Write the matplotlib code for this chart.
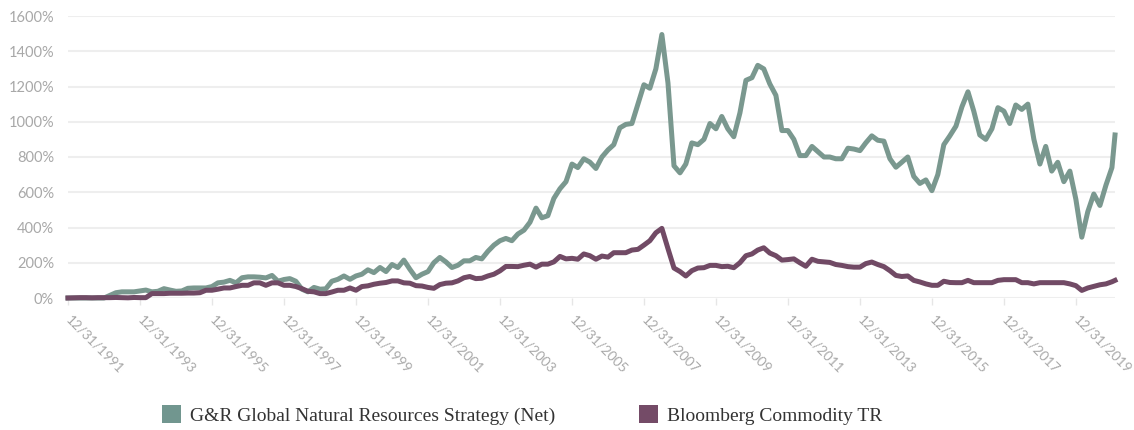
import numpy as np
import pandas as pd
import matplotlib
matplotlib.use("Agg")
import matplotlib.pyplot as plt
import matplotlib.dates as mdates
from matplotlib.patches import Patch

# cumulative return (%), sampled every two months from 12/31/1991, last point Jan 2021
start_value = 0
gr_by_year = [
    [0, 0, 0, 0, 0, 0],              # 1992
    [15, 30, 35, 35, 35, 40],        # 1993
    [45, 35, 38, 53, 45, 38],        # 1994
    [40, 55, 57, 57, 57, 65],        # 1995
    [86, 90, 100, 86, 115, 120],     # 1996
    [120, 118, 114, 128, 95, 105],   # 1997
    [110, 95, 50, 35, 60, 50],       # 1998
    [52, 95, 106, 125, 106, 125],    # 1999
    [135, 160, 144, 173, 150, 190],  # 2000
    [173, 215, 163, 115, 135, 150],  # 2001
    [200, 230, 205, 173, 186, 211],  # 2002
    [211, 230, 222, 265, 300, 325],  # 2003
    [338, 325, 363, 385, 430, 510],  # 2004
    [455, 467, 565, 620, 660, 760],  # 2005
    [740, 790, 771, 735, 800, 840],  # 2006
    [870, 965, 985, 990, 1100, 1210],  # 2007
    [1190, 1300, 1495, 1220, 750, 710],  # 2008
    [760, 880, 870, 900, 990, 960],  # 2009
    [1030, 960, 915, 1050, 1235, 1250],  # 2010
    [1320, 1300, 1215, 1150, 950, 950],  # 2011
    [900, 808, 808, 860, 830, 800],  # 2012
    [800, 790, 790, 850, 845, 836],  # 2013
    [880, 920, 895, 890, 790, 742],  # 2014
    [770, 800, 690, 650, 670, 609],  # 2015
    [700, 870, 920, 975, 1085, 1170],  # 2016
    [1060, 925, 900, 960, 1080, 1060],  # 2017
    [990, 1095, 1070, 1100, 900, 760],  # 2018
    [860, 720, 770, 660, 720, 560],  # 2019
    [345, 490, 590, 525, 640, 740],  # 2020
]
gr_last = 925

bcom_by_year = [
    [1, 2, 2, 1, 2, 2],              # 1992
    [2, 3, 2, 1, 3, 2],              # 1993
    [2, 25, 25, 25, 27, 27],         # 1994
    [27, 28, 28, 30, 44, 44],        # 1995
    [50, 57, 57, 65, 72, 72],        # 1996
    [86, 86, 72, 86, 86, 72],        # 1997
    [72, 65, 53, 38, 35, 25],        # 1998
    [25, 34, 44, 44, 57, 44],        # 1999
    [65, 69, 78, 84, 88, 97],        # 2000
    [97, 86, 84, 70, 68, 60],        # 2001
    [55, 76, 84, 86, 97, 115],       # 2002
    [122, 110, 112, 125, 135, 154],  # 2003
    [179, 179, 178, 186, 192, 175],  # 2004
    [192, 192, 205, 236, 222, 225],  # 2005
    [220, 250, 240, 220, 238, 232],  # 2006
    [257, 257, 257, 272, 276, 300],  # 2007
    [325, 370, 395, 280, 170, 150],  # 2008
    [125, 155, 170, 172, 185, 185],  # 2009
    [178, 180, 172, 200, 240, 250],  # 2010
    [272, 285, 255, 240, 215, 218],  # 2011
    [222, 200, 180, 220, 208, 205],  # 2012
    [202, 190, 185, 178, 175, 175],  # 2013
    [195, 204, 190, 178, 155, 128],  # 2014
    [122, 125, 100, 91, 80, 72],     # 2015
    [72, 95, 88, 87, 87, 100],       # 2016
    [87, 87, 87, 87, 100, 104],      # 2017
    [104, 104, 87, 87, 80, 87],      # 2018
    [87, 87, 87, 87, 80, 70],        # 2019
    [43, 57, 66, 75, 80, 92],        # 2020
]
bcom_last = 100

gr = [start_value] + [v for row in gr_by_year for v in row] + [gr_last]
bcom = [start_value] + [v for row in bcom_by_year for v in row] + [bcom_last]

dates = list(pd.date_range("1991-12-31", "2020-12-31", freq="2ME")) + [pd.Timestamp("2021-01-31")]

tick_dates = pd.date_range("1991-12-31", "2019-12-31", freq="24ME")

green = "#7a988f"
purple = "#714a65"
label_gray = "#a8a8a8"

fig = plt.figure(figsize=(11.34, 4.30), dpi=100)
ax = fig.add_axes([68 / 1134, 1 - 298 / 430, (1115 - 68) / 1134, (298 - 16) / 430])

ax.plot(dates, gr, color=green, linewidth=3.6, solid_joinstyle="round", clip_on=False, zorder=3)
ax.plot(dates, bcom, color=purple, linewidth=3.6, solid_joinstyle="round", clip_on=False, zorder=4)

ax.set_ylim(0, 1600)
ax.set_xlim(dates[0], dates[-1])
ax.set_yticks(np.arange(0, 1601, 200))
ax.set_yticklabels([f"{v}%" for v in range(0, 1601, 200)])
ax.set_xticks(tick_dates)
ax.xaxis.set_major_formatter(mdates.DateFormatter("%m/%d/%Y"))

ax.grid(axis="y", color="#eeeeee", linewidth=1.5)
ax.set_axisbelow(True)
for s in ax.spines.values():
    s.set_visible(False)

ax.tick_params(axis="y", length=0, pad=10, labelsize=10.5, labelcolor=label_gray)
ax.tick_params(axis="x", length=5, width=1, color="#e6e6e6", pad=9, labelsize=9.8, labelcolor=label_gray)
for lab in ax.get_xticklabels() + ax.get_yticklabels():
    lab.set_family("Lato")
for lab in ax.get_xticklabels():
    lab.set_rotation(-45)
    lab.set_rotation_mode("anchor")
    lab.set_ha("left")
    lab.set_va("center")

handles = [Patch(facecolor="#71968f", edgecolor="none"), Patch(facecolor="#744b67", edgecolor="none")]
fig.legend(handles, ["G&R Global Natural Resources Strategy (Net)", "Bloomberg Commodity TR"],
           loc="center", bbox_to_anchor=(522 / 1134, 1 - 415 / 430), ncol=2, frameon=False,
           handlelength=1.0, handleheight=1.0, handletextpad=0.45, columnspacing=4.3,
           prop={"family": "Liberation Serif", "size": 14}, labelcolor="#333333")

fig.savefig("out.png", dpi=100)
